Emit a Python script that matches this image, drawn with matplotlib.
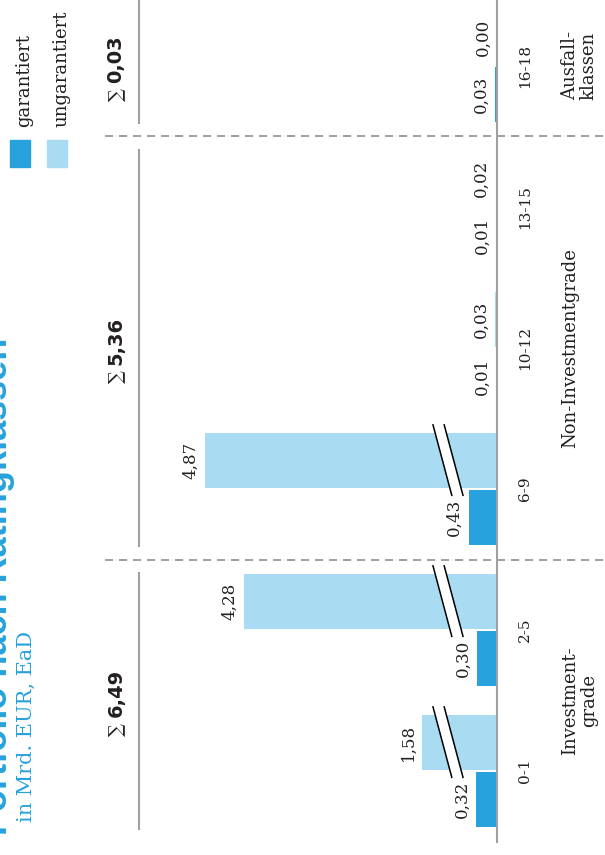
import numpy as np
import matplotlib
matplotlib.use("Agg")
import matplotlib.pyplot as plt
from matplotlib.patches import Rectangle, Polygon

# Rating classes and exposure (Mrd. EUR, EaD)
categories = ["0-1", "2-5", "6-9", "10-12", "13-15", "16-18"]
garantiert = [0.32, 0.30, 0.43, 0.01, 0.01, 0.03]
ungarantiert = [1.58, 4.28, 4.87, 0.03, 0.02, 0.00]

group_names = ["Investment-\ngrade", "Non-Investmentgrade", "Ausfall-\nklassen"]
group_first = [0, 2, 5]
group_last = [1, 4, 5]
group_totals = [6.49, 5.36, 0.03]

title = "Portfolio nach Ratingklassen"
subtitle = "in Mrd. EUR, EaD"
legend_labels = ["garantiert", "ungarantiert"]

DARK = "#27a2dc"
LIGHT = "#a9dcf2"
GRAY = "#a0a0a0"
INK = "#231f20"

W, H = 605, 855

# broken value axis: values between BREAK and BREAK + GAP are squeezed out
BREAK, GAP = 1.0, 0.45


def fwd(v):
    v = np.asarray(v, dtype=float)
    return np.where(v < BREAK, v, np.where(v < BREAK + GAP, BREAK, v - GAP))


def inv(d):
    d = np.asarray(d, dtype=float)
    return np.where(d < BREAK, d, d + GAP)


def fmt(v):
    return f"{v:.2f}".replace(".", ",")


# pixel geometry of the rotated layout
px_unit = 66.0        # px per value unit
base_px = 497.0       # x of the category axis
px_cat = 141.0        # px between categories
first_px = 771.0      # y of first category (from top)

fig = plt.figure(figsize=(W / 100, H / 100), dpi=100)
ax = fig.add_axes([0, 0, 1, 1])
ax.set_xscale("function", functions=(fwd, inv))
ax.set_xlim(float(inv(base_px / px_unit)), -(W - base_px) / px_unit)
ax.set_ylim(-(H - first_px) / px_cat, first_px / px_cat)
ax.axis("off")

y = np.arange(len(categories))
bar_h = 0.39
off = 0.2

ax.barh(y - off, garantiert, height=bar_h, color=DARK, zorder=2)
ax.barh(y + off, ungarantiert, height=bar_h, color=LIGHT, zorder=2)

# break marks across the long bars
for i, v in enumerate(ungarantiert):
    if v > BREAK + GAP:
        top, bot = i + off + 0.255, i - 0.045
        stripe = Polygon([(0.97, top), (0.80, top), (0.515, bot), (0.685, bot)],
                         closed=True, facecolor="white", edgecolor="none", zorder=3)
        ax.add_patch(stripe)
        ax.plot([0.97, 0.685], [top, bot], color="black", lw=1.1, zorder=4)
        ax.plot([0.80, 0.515], [top, bot], color="black", lw=1.1, zorder=4)

# value labels
for i in range(len(categories)):
    for v, dy in ((garantiert[i], -off), (ungarantiert[i], off)):
        ax.annotate(fmt(v), xy=(v, i + dy), xytext=(-4, 0),
                    textcoords="offset points", rotation=90,
                    ha="right", va="center", fontsize=12,
                    family="DejaVu Serif", color=INK, zorder=5)

# category axis
ax.plot([0, 0], [-0.51, 6], color=GRAY, lw=1.5, zorder=3, solid_capstyle="butt")

yt = ax.get_yaxis_transform()
for i, c in enumerate(categories):
    ax.text(525 / W, i, c, transform=yt, rotation=90, ha="center", va="center",
            fontsize=11, family="DejaVu Serif", color=INK)

# group separators, names and totals
for sep in (1.5, 4.5):
    ax.plot([105 / W, 1.0], [sep, sep], transform=yt, color=GRAY, lw=1.4,
            linestyle=(0, (4.2, 3.0)), zorder=1)

gap = 0.09
edges = [-0.42, 1.5, 4.5, 6.0]
for g, name in enumerate(group_names):
    lo = max(group_first[g] - 0.5, edges[0])
    hi = group_last[g] + 0.5
    lo_line = lo + gap if g > 0 else lo
    hi_line = hi - gap if g < len(group_names) - 1 else 6.0
    ax.plot([139 / W, 139 / W], [lo_line, hi_line], transform=yt, color=GRAY,
            lw=1.5, solid_capstyle="butt")
    mid = (group_first[g] + group_last[g]) / 2
    ax.text(561 / W, mid, name, transform=yt, rotation=90, ha="left",
            va="center", fontsize=13, family="DejaVu Serif", color=INK,
            multialignment="center", linespacing=1.05)
    ax.text(116 / W, mid - 0.16, "\u2211", transform=yt, rotation=90,
            ha="center", va="top", fontsize=13, family="DejaVu Serif", color=INK)
    ax.text(116 / W, mid - 0.12, fmt(group_totals[g]), transform=yt, rotation=90,
            ha="center", va="bottom", fontsize=14, family="DejaVu Sans",
            fontweight="bold", color=INK)

# title block
fig.text(15 / W, 20 / H, title, rotation=90, ha="right", va="bottom",
         fontsize=26, family="Liberation Sans", fontweight="bold", color=DARK)
fig.text(17 / W, 33 / H, subtitle, rotation=90, ha="left", va="bottom",
         fontsize=15, family="DejaVu Serif", color=DARK)

# legend
for k, (lab, col) in enumerate(zip(legend_labels, [DARK, LIGHT])):
    x0 = 10 + 37 * k
    fig.add_artist(Rectangle((x0 / W, (H - 167) / H), 20 / W, 27 / H,
                             transform=fig.transFigure, color=col))
    fig.text((x0 + 14) / W, (H - 127) / H, lab, rotation=90, ha="center",
             va="bottom", fontsize=13, family="DejaVu Serif", color=INK)

fig.savefig("out.png", dpi=100)
